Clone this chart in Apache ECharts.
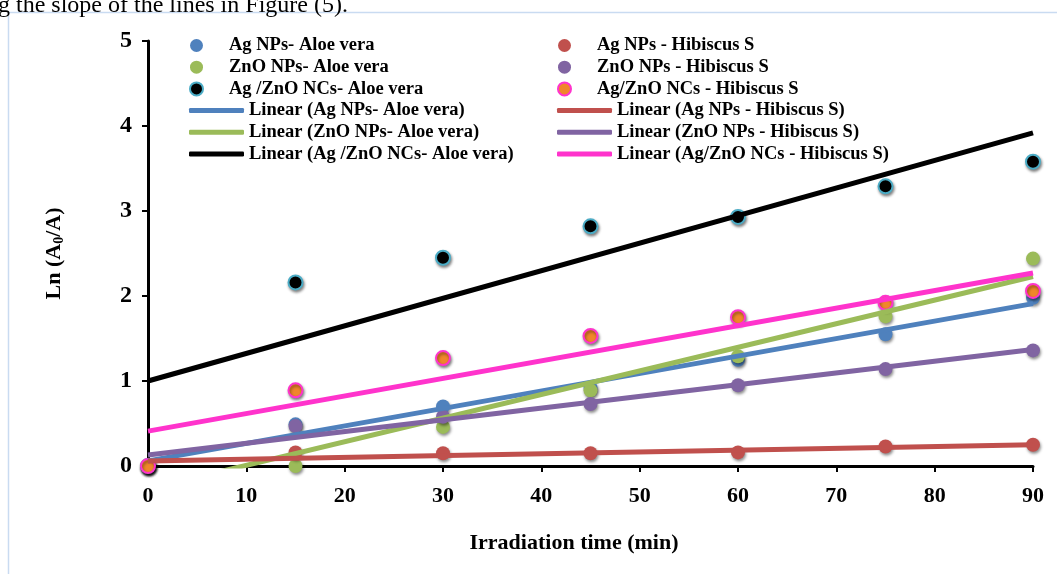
<!DOCTYPE html>
<html lang="en">
<head>
    <meta charset="utf-8">
    <script src="https://cdn.jsdelivr.net/npm/echarts@6/dist/echarts.min.js"></script>
    <title>Ln(A0/A) vs irradiation time</title>
    <style>
        html, body { margin: 0; padding: 0; background: #fff; }
        #main { width: 1057px; height: 574px; }
    </style>
</head>
<body>
<div id="main"></div>
<script>
    // x axis: irradiation time (min)
    var times = [0, 15, 30, 45, 60, 75, 90];
    var xTicks = [0, 10, 20, 30, 40, 50, 60, 70, 80, 90];

    // Ln(A0/A) values
    var agAloe = [0, 0.49, 0.70, 0.92, 1.25, 1.55, 1.98];
    var znoAloe = [0, 0, 0.46, 0.89, 1.29, 1.76, 2.44];
    var agznoAloe = [0, 2.16, 2.45, 2.82, 2.93, 3.29, 3.58];
    var agHib = [0, 0.16, 0.15, 0.15, 0.16, 0.23, 0.25];
    var znoHib = [0, 0.47, 0.58, 0.73, 0.95, 1.14, 1.36];
    var agznoHib = [0, 0.89, 1.27, 1.53, 1.75, 1.92, 2.06];

    // trendline ends (value at t=0 and t=90)
    var trendAgAloe = [0.06, 1.91];
    var trendZnoAloe = [-0.27, 2.23];
    var trendAgznoAloe = [1.00, 3.92];
    var trendAgHib = [0.06, 0.25];
    var trendZnoHib = [0.13, 1.37];
    var trendAgznoHib = [0.41, 2.27];

    var font = 'Liberation Serif';
    var myChart = echarts.init(document.getElementById('main'));

    function pts(vals) {
        var out = [];
        for (var i = 0; i < vals.length; i++) out.push([times[i], vals[i]]);
        return out;
    }
    function scatter(name, vals, fill, border) {
        return {
            name: name, type: 'scatter', data: pts(vals), symbolSize: 14, clip: false, z: 2,
            itemStyle: {
                color: fill, opacity: 1, borderColor: border || fill, borderWidth: border ? 2 : 0,
                shadowBlur: 3, shadowColor: 'rgba(0,0,0,0.45)', shadowOffsetX: 1, shadowOffsetY: 2
            }
        };
    }
    function trend(name, ends, color) {
        return {
            name: name, type: 'line', data: [[times[0], ends[0]], [times[times.length - 1], ends[1]]],
            showSymbol: false, clip: true, z: 3, color: color,
            lineStyle: { color: color, width: 5 }
        };
    }

    var legText = { fontFamily: font, fontWeight: 'bold', fontSize: 18.5, color: '#000', lineHeight: 18 };
    function legend(left, top, names, isLine) {
        return {
            left: left, top: top, orient: 'vertical', padding: 0,
            itemWidth: 55, itemHeight: isLine ? 5 : 13, itemGap: 2.7,
            icon: isLine ? 'roundRect' : 'circle',
            textStyle: legText, data: names, selectedMode: false
        };
    }

    option = {
        animation: false,
        backgroundColor: '#fff',
        // frame + clipped sentence above it
        graphic: [
            { type: 'rect', shape: { x: 8.5, y: 12.5, width: 1100, height: 620 },
              style: { fill: 'none', stroke: '#c9dbf1', lineWidth: 1.5 } },
            { type: 'text', x: -2, y: -6,
              style: { text: 'g the slope of the lines in Figure (5).', font: '24px "Liberation Serif"', fill: '#000', verticalAlign: 'alphabetic' } }
        ],
        legend: [
            legend(189, 36, ['Ag NPs- Aloe vera', 'ZnO NPs- Aloe vera', 'Ag /ZnO NCs- Aloe vera'], false),
            legend(189, 101, ['Linear (Ag NPs- Aloe vera)', 'Linear (ZnO NPs- Aloe vera)', 'Linear (Ag /ZnO NCs- Aloe vera)'], true),
            legend(557, 36, ['Ag NPs - Hibiscus S', 'ZnO NPs - Hibiscus S', 'Ag/ZnO NCs - Hibiscus S'], false),
            legend(557, 101, ['Linear (Ag NPs - Hibiscus S)', 'Linear (ZnO NPs - Hibiscus S)', 'Linear (Ag/ZnO NCs - Hibiscus S)'], true)
        ],
        grid: { left: 148, top: 41, width: 885, height: 425 },
        xAxis: {
            type: 'value', min: xTicks[0], max: xTicks[xTicks.length - 1], interval: 10,
            name: 'Irradiation time (min)', nameLocation: 'middle', nameGap: 66,
            nameTextStyle: { fontFamily: font, fontWeight: 'bold', fontSize: 22, color: '#000', padding: [0, 33, 0, 0] },
            axisLine: { lineStyle: { color: '#000', width: 3 } },
            axisTick: { length: 6, lineStyle: { color: '#000', width: 2 } },
            axisLabel: { margin: 19, fontFamily: font, fontWeight: 'bold', fontSize: 22, color: '#000' },
            splitLine: { show: false }
        },
        yAxis: {
            type: 'value', min: 0, max: 5, interval: 1,
            name: 'Ln (A{sub|0}/A)', nameLocation: 'middle', nameRotate: 90, nameGap: 82,
            nameTextStyle: {
                fontFamily: font, fontWeight: 'bold', fontSize: 22, color: '#000',
                rich: { sub: { fontFamily: font, fontWeight: 'bold', fontSize: 14, color: '#000', padding: [10, 0, 0, 0] } }
            },
            axisLine: { show: true, lineStyle: { color: '#000', width: 3 } },
            axisTick: { show: true, length: 6, lineStyle: { color: '#000', width: 2 } },
            axisLabel: { margin: 16, fontFamily: font, fontWeight: 'bold', fontSize: 24, color: '#000' },
            splitLine: { show: false }
        },
        series: [
            scatter('Ag NPs- Aloe vera', agAloe, '#4f81bd'),
            scatter('ZnO NPs- Aloe vera', znoAloe, '#9bbb59'),
            scatter('Ag /ZnO NCs- Aloe vera', agznoAloe, '#000000', '#4bacc6'),
            scatter('Ag NPs - Hibiscus S', agHib, '#c0504d'),
            scatter('ZnO NPs - Hibiscus S', znoHib, '#8064a2'),
            scatter('Ag/ZnO NCs - Hibiscus S', agznoHib, '#f0862a', '#ff33cc'),
            trend('Linear (Ag NPs- Aloe vera)', trendAgAloe, '#4f81bd'),
            trend('Linear (ZnO NPs- Aloe vera)', trendZnoAloe, '#9bbb59'),
            trend('Linear (Ag /ZnO NCs- Aloe vera)', trendAgznoAloe, '#000000'),
            trend('Linear (Ag NPs - Hibiscus S)', trendAgHib, '#c0504d'),
            trend('Linear (ZnO NPs - Hibiscus S)', trendZnoHib, '#8064a2'),
            trend('Linear (Ag/ZnO NCs - Hibiscus S)', trendAgznoHib, '#ff33cc')
        ]
    };
    myChart.setOption(option);
</script>
</body>
</html>
